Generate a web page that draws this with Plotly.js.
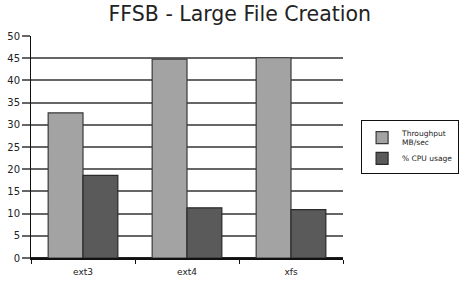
<!DOCTYPE html>
<html><head><meta charset="utf-8">
<script src="https://cdn.plot.ly/plotly-3.0.1.min.js"></script>
<style>html,body{margin:0;padding:0;background:#fff;}#c{width:473px;height:289px;}</style>
</head><body><div id="c"></div>
<script>
const categories = ["ext3", "ext4", "xfs"];
const throughput = [32.7, 44.8, 45.1];
const cpuUsage = [18.6, 11.3, 10.9];
const seriesNames = ["Throughput<br>MB/sec", "% CPU usage"];

const data = [
  {type: "bar", x: categories, y: throughput, name: seriesNames[0],
   marker: {color: "#a3a3a3", line: {color: "#3a3a3a", width: 1.2}}},
  {type: "bar", x: categories, y: cpuUsage, name: seriesNames[1],
   marker: {color: "#5a5a5a", line: {color: "#2a2a2a", width: 1.2}}}
];
const layout = {
  width: 473, height: 289,
  margin: {l: 31, r: 130, t: 36, b: 31},
  paper_bgcolor: "#fff", plot_bgcolor: "#fff",
  title: {text: "FFSB - Large File Creation", x: 0.507, xanchor: "center", y: 0.953, yanchor: "middle",
          font: {family: "DejaVu Sans, sans-serif", size: 20.5, color: "#222"}},
  barmode: "group", bargap: 0.33, bargroupgap: 0,
  xaxis: {type: "category", showline: true, linecolor: "#111", linewidth: 1.5,
          ticks: "outside", tickson: "boundaries", ticklen: 4, tickcolor: "#111",
          ticklabelstandoff: 5,
          tickfont: {family: "DejaVu Sans, sans-serif", size: 9, color: "#222"}, showgrid: false},
  yaxis: {range: [0, 50], dtick: 5, showline: true, linecolor: "#111", linewidth: 1,
          ticks: "outside", ticklen: 8, tickcolor: "#666", tickwidth: 2,
          gridcolor: "#666", gridwidth: 2, zeroline: true, zerolinecolor: "#222", zerolinewidth: 2,
          tickfont: {family: "DejaVu Sans, sans-serif", size: 10, color: "#222"}},
  showlegend: true,
  legend: {x: 1.058, y: 0.62, xanchor: "left", yanchor: "top",
           bordercolor: "#111", borderwidth: 1, bgcolor: "#fff",
           font: {family: "DejaVu Sans, sans-serif", size: 7.5, color: "#222"},
           itemwidth: 30, tracegroupgap: 0}
};
Plotly.newPlot("c", data, layout, {displayModeBar: false, staticPlot: true});
</script></body></html>
